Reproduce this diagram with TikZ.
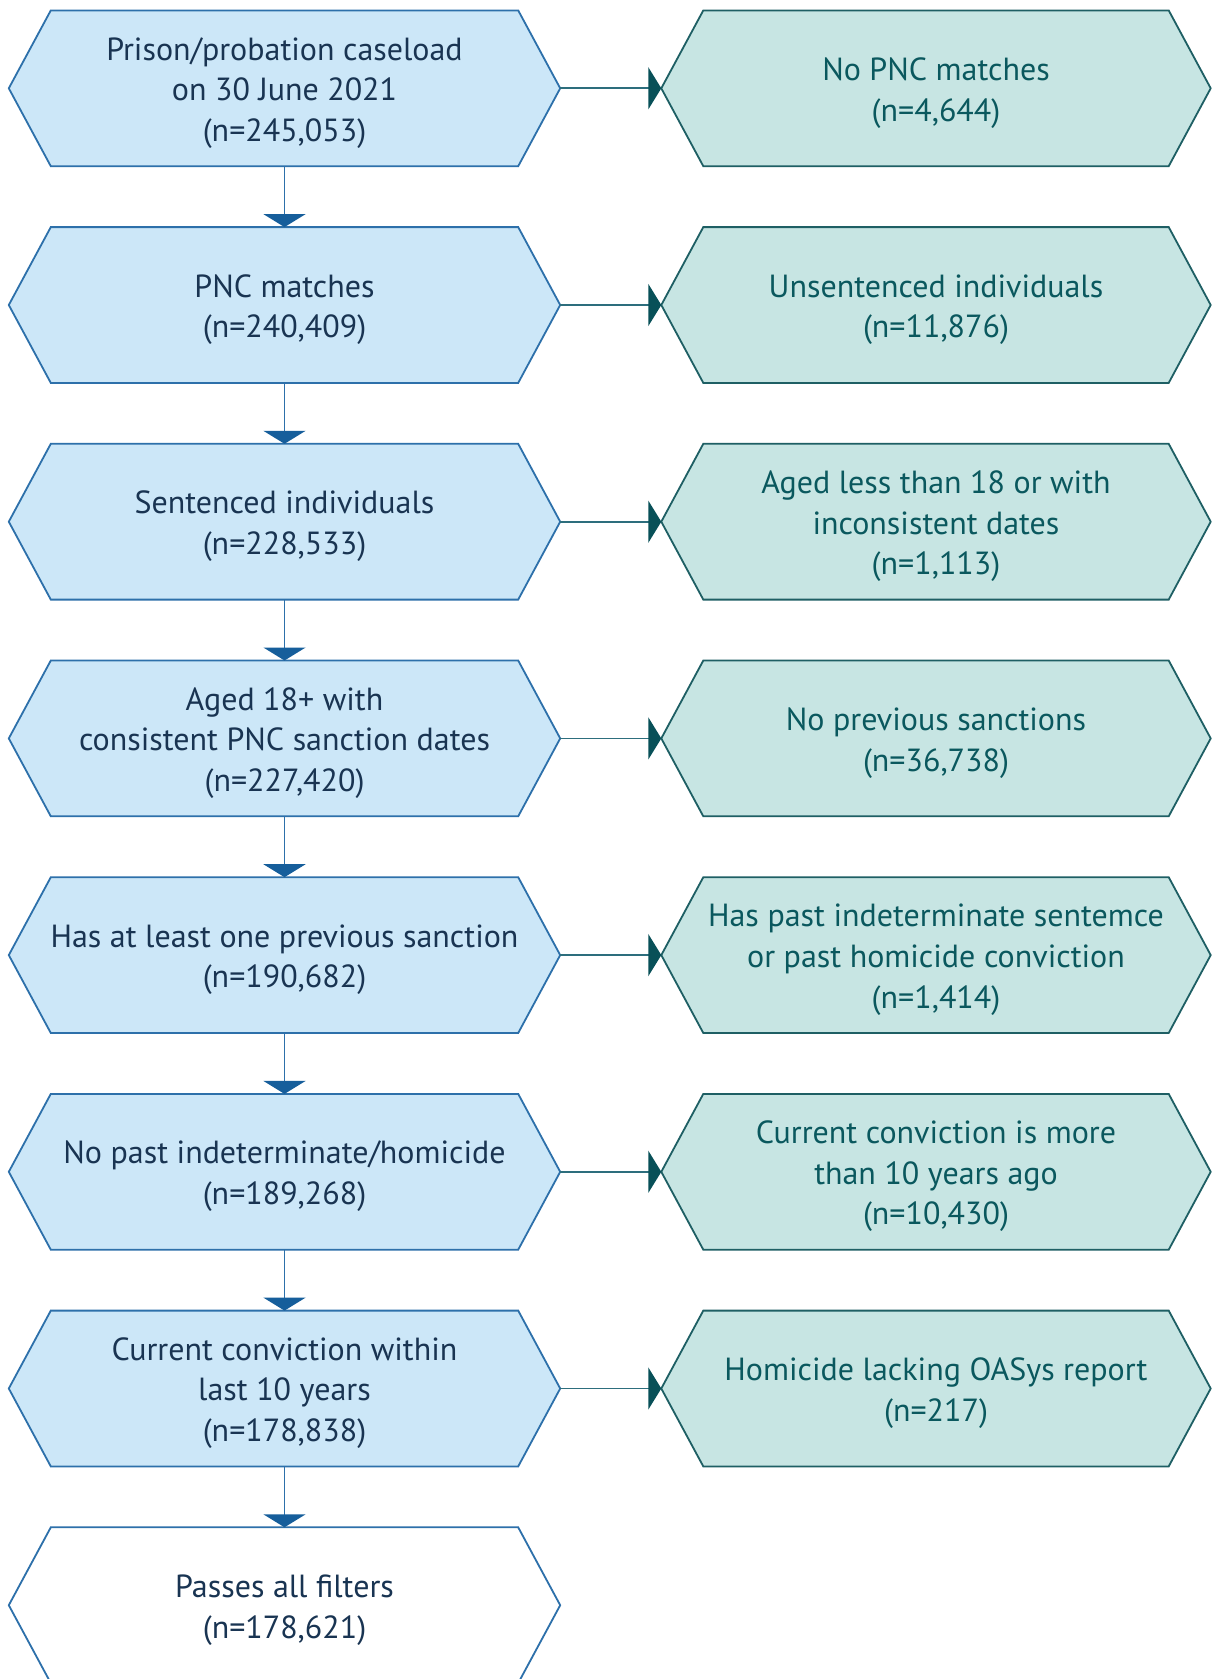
\documentclass[tikz,border=0pt]{standalone}
\usepackage{fontspec}
\setmainfont{PT Sans}
\usetikzlibrary{arrows.meta,backgrounds}
\definecolor{lfill}{RGB}{204,231,248}
\definecolor{lborder}{RGB}{45,112,170}
\definecolor{ltext}{RGB}{25,52,82}
\definecolor{darrow}{RGB}{22,94,155}
\definecolor{rfill}{RGB}{199,229,227}
\definecolor{rborder}{RGB}{30,95,100}
\definecolor{rtext}{RGB}{10,88,94}
\definecolor{rarrow}{RGB}{8,80,88}
\definecolor{rline}{RGB}{45,110,125}
\newcommand\mytopstrut{\rule{0pt}{32pt}}
\begin{document}
\begin{tikzpicture}[x=1pt,y=-1pt,
  basebox/.style={rectangle, minimum height=155.4pt, inner sep=0pt, align=center,
    font=\fontsize{32}{40.7}\selectfont},
  lbox/.style={basebox, minimum width=551pt, text=ltext},
  rbox/.style={basebox, minimum width=549pt, text=rtext},
  lhex/.style={draw=lborder, fill=lfill, line width=1.8pt},
  whex/.style={draw=lborder, fill=white, line width=1.8pt},
  rhex/.style={draw=rborder, fill=rfill, line width=1.8pt},
  darr/.style={draw=lborder, line width=1.8pt, -{Triangle[width=42pt,length=13pt,color=darrow]}},
  rarr/.style={draw=rline, line width=1.8pt, -{Triangle[width=42pt,length=13pt,color=rarrow]}},
]
\useasboundingbox (0,0) rectangle (1211,1679);

\node[lbox] (l1) at (284.5,88.3)  {\mytopstrut Prison/probation caseload\\on 30 June 2021\\(n=245,053)};
\node[lbox] (l2) at (284.5,305.0) {\mytopstrut PNC matches\\(n=240,409)};
\node[lbox] (l3) at (284.5,521.7) {\mytopstrut Sentenced individuals\\(n=228,533)};
\node[lbox] (l4) at (284.5,738.4) {\mytopstrut Aged 18+ with\\consistent PNC sanction dates\\(n=227,420)};
\node[lbox] (l5) at (284.5,955.1) {\mytopstrut Has at least one previous sanction\\(n=190,682)};
\node[lbox] (l6) at (284.5,1171.8) {\mytopstrut No past indeterminate/homicide\\(n=189,268)};
\node[lbox] (l7) at (284.5,1388.5) {\mytopstrut Current conviction within\\last 10 years\\(n=178,838)};
\node[lbox] (l8) at (284.5,1605.2) {\mytopstrut Passes all filters\\(n=178,621)};

\node[rbox] (r1) at (936,88.3)  {\mytopstrut No PNC matches\\(n=4,644)};
\node[rbox] (r2) at (936,305.0) {\mytopstrut Unsentenced individuals\\(n=11,876)};
\node[rbox] (r3) at (936,521.7) {\mytopstrut Aged less than 18 or with\\inconsistent dates\\(n=1,113)};
\node[rbox] (r4) at (936,738.4) {\mytopstrut No previous sanctions\\(n=36,738)};
\node[rbox] (r5) at (936,955.1) {\mytopstrut Has past indeterminate sentemce\\or past homicide conviction\\(n=1,414)};
\node[rbox] (r6) at (936,1171.8) {\mytopstrut Current conviction is more\\than 10 years ago\\(n=10,430)};
\node[rbox] (r7) at (936,1388.5) {\mytopstrut Homicide lacking OASys report\\(n=217)};

\begin{pgfonlayer}{background}
\fill[white] (0,0) rectangle (1211,1679);
\foreach \n/\s in {l1/lhex,l2/lhex,l3/lhex,l4/lhex,l5/lhex,l6/lhex,l7/lhex,l8/whex,
                   r1/rhex,r2/rhex,r3/rhex,r4/rhex,r5/rhex,r6/rhex,r7/rhex}
  \draw[\s] ([xshift=42pt]\n.north west) -- ([xshift=-42pt]\n.north east) -- (\n.east)
    -- ([xshift=-42pt]\n.south east) -- ([xshift=42pt]\n.south west) -- (\n.west) -- cycle;
\end{pgfonlayer}

\foreach \a/\b in {l1/l2,l2/l3,l3/l4,l4/l5,l5/l6,l6/l7,l7/l8}
  \draw[darr] (\a.south) -- (\b.north);
\foreach \i in {1,...,7}
  \draw[rarr] (l\i.east) -- (r\i.west);
\end{tikzpicture}
\end{document}
